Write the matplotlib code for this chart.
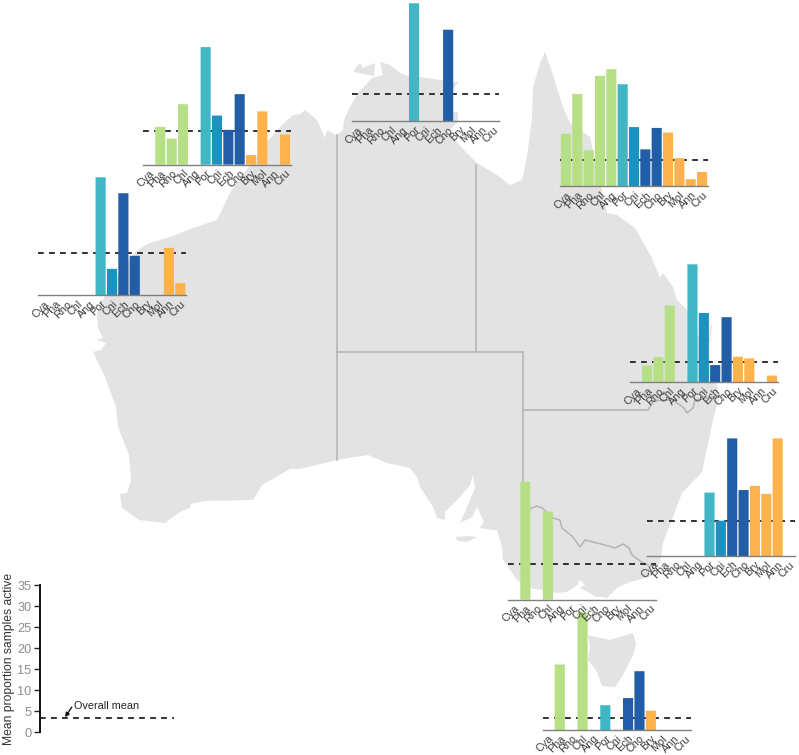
import matplotlib
matplotlib.use('Agg')
import matplotlib.pyplot as plt

plt.rcParams['font.family'] = ['Liberation Sans', 'DejaVu Sans']

W, H = 799, 755

taxa = ['Cya', 'Pha', 'Rho', 'Chl', 'Ang', 'Por', 'Cni', 'Ech', 'Cho', 'Bry', 'Mol', 'Ann', 'Cru']

# values, one list per region
wa = [0, 0, 0, 0, 0, 28.1, 6.3, 24.3, 9.4, 0, 0, 11.3, 2.9]
kimberley = [0, 9.0, 6.2, 14.4, 0, 28.0, 11.7, 8.3, 16.8, 2.3, 12.7, 0, 7.2]
nt = [0, 0, 0, 0, 0, 28.1, 0, 0, 21.8, 0, 0, 0, 0]
qld_north = [12.5, 22.0, 8.6, 26.3, 27.9, 24.3, 14.1, 8.8, 13.9, 12.8, 6.7, 1.7, 3.4]
qld_south = [0, 4.0, 6.0, 18.3, 0, 28.1, 16.5, 4.1, 15.5, 6.1, 5.7, 0, 1.6]
nsw = [0, 0, 0, 0, 0, 15.1, 8.4, 28.0, 15.7, 16.7, 14.8, 28.0, 0]
sa = [0, 28.1, 0, 21.0, 0, 0, 0, 0, 0, 0, 0, 0, 0]
tas = [0, 15.6, 0, 28.0, 0, 5.9, 0, 7.6, 14.0, 4.6, 0, 0, 0]

overall_mean = 3.4

y_ticks = [0, 5, 10, 15, 20, 25, 30, 35]

# map outline, traced in image pixels
coast_x = [97, 98, 103, 97, 106, 101, 93, 105, 116, 118, 129, 131, 127, 120, 122, 139, 165, 180, 190, 191,
           205, 253, 262, 290, 300, 337, 368, 387, 410, 417, 420, 433, 437, 445, 445, 460, 470, 473, 475, 465,
           460, 472, 477, 484, 480, 493, 497, 502, 503, 517, 530, 557, 567, 577, 580, 585, 580, 597, 602, 607,
           617, 630, 650, 660, 663, 682, 702, 713, 720, 712, 700, 687, 677, 673, 663, 660, 652, 643, 635, 617,
           607, 590, 570, 563, 553, 545, 540, 533, 532, 527, 522, 510, 500, 477, 467, 447, 458, 458, 452, 453,
           458, 440, 420, 410, 400, 390, 380, 383, 372, 358, 350, 344, 343, 336, 327, 325, 317, 305, 300, 293,
           280, 267, 233, 230, 217, 193, 170, 147, 135, 110]
coast_y = [313, 328, 338, 340, 343, 350, 352, 377, 407, 427, 455, 480, 493, 494, 508, 520, 523, 512, 508, 504,
           501, 500, 485, 469, 469, 460, 455, 463, 468, 477, 487, 507, 518, 520, 512, 497, 485, 475, 488, 512,
           523, 517, 507, 522, 528, 530, 530, 547, 560, 580, 588, 593, 592, 585, 580, 585, 588, 597, 597, 598,
           588, 582, 577, 563, 543, 493, 472, 420, 395, 370, 340, 310, 300, 287, 273, 278, 258, 242, 228, 215,
           213, 137, 123, 107, 75, 52, 63, 87, 117, 157, 180, 185, 177, 163, 153, 132, 122, 112, 112, 90,
           82, 80, 77, 77, 73, 65, 62, 75, 78, 93, 107, 120, 130, 135, 130, 138, 120, 110, 114, 115,
           127, 142, 188, 193, 220, 228, 237, 244, 252, 285]

tas_x = [588, 610, 633, 636, 634, 623, 615, 602, 597, 588, 590]
tas_y = [635, 640, 633, 643, 653, 675, 687, 686, 672, 660, 647]

kangaroo_x = [455, 467, 477, 467, 458]
kangaroo_y = [537, 536, 537, 542, 541]

tiwi_x = [353, 360, 363, 375, 374, 358]
tiwi_y = [71, 63, 68, 63, 76, 73]

fraser_x = [710, 712, 711, 709]
fraser_y = [343, 325, 325, 341]

borders = [
    ([337, 337], [135, 460]),
    ([337, 523], [352, 352]),
    ([476, 476], [165, 352]),
    ([523, 523], [352, 585]),
    ([523, 648, 653, 660, 673, 684, 687, 693, 695, 718], [410, 410, 402, 400, 400, 408, 413, 408, 400, 396]),
    ([523, 532, 537, 542, 553, 560, 562, 573, 580, 585, 593, 605, 615, 623, 629, 632, 643, 648],
     [510, 508, 506, 508, 518, 520, 528, 537, 547, 540, 542, 545, 548, 544, 548, 555, 563, 565]),
]

green, cyan, blue, navy, orange = '#B7E086', '#41B6C4', '#1D91C0', '#225EA8', '#FEB24C'
colors = [green] * 5 + [cyan, blue, navy, navy] + [orange] * 4
land = '#E3E3E3'
border_col = '#B4B4B4'

px_per_unit = 4.2


def axes_at(fig, x0, x1, base):
    # pixel box to figure fractions, all insets share one y scale
    h = 35 * px_per_unit
    ax = fig.add_axes([x0 / W, 1 - base / H, (x1 - x0) / W, h / H])
    ax.patch.set_visible(False)
    return ax


fig = plt.figure(figsize=(W / 100, H / 100), dpi=100)

bg = fig.add_axes([0, 0, 1, 1])
bg.set_xlim(0, W)
bg.set_ylim(H, 0)
bg.axis('off')
for xs, ys in [(coast_x, coast_y), (tas_x, tas_y), (kangaroo_x, kangaroo_y), (tiwi_x, tiwi_y), (fraser_x, fraser_y)]:
    bg.fill(xs, ys, color=land, lw=0)
for xs, ys in borders:
    bg.plot(xs, ys, color=border_col, lw=1.1, solid_joinstyle='round')

# drawn in this order so Tasmania sits under the labels of the panel above it
panels = [
    (tas, 2.8, 542.7, 690.7, 730.0),
    (wa, 10.1, 38.0, 186.0, 295.3),
    (kimberley, 8.1, 143.3, 290.7, 164.7),
    (nt, 6.5, 351.5, 499.3, 121.3),
    (qld_north, 6.2, 560.3, 707.7, 186.3),
    (qld_south, 4.8, 630.0, 777.7, 382.3),
    (sa, 8.4, 508.3, 655.7, 599.7),
    (nsw, 8.4, 647.0, 794.7, 556.0),
]

for vals, m, x0, x1, base in panels:
    ax = axes_at(fig, x0, x1, base)
    pos = [i + 0.5 for i in range(len(taxa))]
    ax.plot([0, 13], [m, m], color='#222222', lw=1.3, ls=(0, (3.2, 2.9)), zorder=1)
    ax.bar(pos, vals, width=0.89, color=colors, lw=0, zorder=2, snap=False)
    ax.set_xlim(0, 13)
    ax.set_ylim(0, 35)
    for s in ['top', 'left', 'right']:
        ax.spines[s].set_visible(False)
    ax.spines['bottom'].set_color('#808080')
    ax.spines['bottom'].set_linewidth(1.0)
    ax.set_yticks([])
    ax.set_xticks(pos)
    ax.set_xticklabels(taxa, rotation=45, ha='right', va='top', rotation_mode='anchor',
                       fontsize=7.8, color='#3c3c3c')
    ax.tick_params(axis='x', length=0, pad=2.5)

# scale key, bottom left
key = axes_at(fig, 39.5, 174, 732.3)
key.plot([0, 1], [overall_mean, overall_mean], color='#222222', lw=1.3, ls=(0, (3.2, 2.9)),
         transform=key.get_yaxis_transform())
key.set_xlim(0, 1)
key.set_ylim(0, 35)
key.set_xticks([])
key.set_yticks(y_ticks)
key.tick_params(axis='y', length=4, width=1.0, color='#222222', labelcolor='#8c8c8c', labelsize=9.2, pad=2)
for s in ['top', 'right', 'bottom']:
    key.spines[s].set_visible(False)
key.spines['left'].set_linewidth(1.4)
key.spines['left'].set_color('#111111')
key.set_ylabel('Mean proportion samples active', fontsize=8.75, color='#333333', va='center')
key.yaxis.set_label_coords(-0.225, 0.5)
key.text(0.255, 6.3, 'Overall mean', transform=key.get_yaxis_transform(), fontsize=7.8,
         color='#222222', va='center', ha='left')
key.annotate('', xy=(0.19, 3.6), xycoords=key.get_yaxis_transform(),
             xytext=(0.24, 6.0), textcoords=key.get_yaxis_transform(),
             arrowprops=dict(arrowstyle='-|>', color='#111111', lw=1.0, mutation_scale=6,
                             shrinkA=0, shrinkB=0))

fig.savefig('out.png', dpi=100, facecolor='white')
